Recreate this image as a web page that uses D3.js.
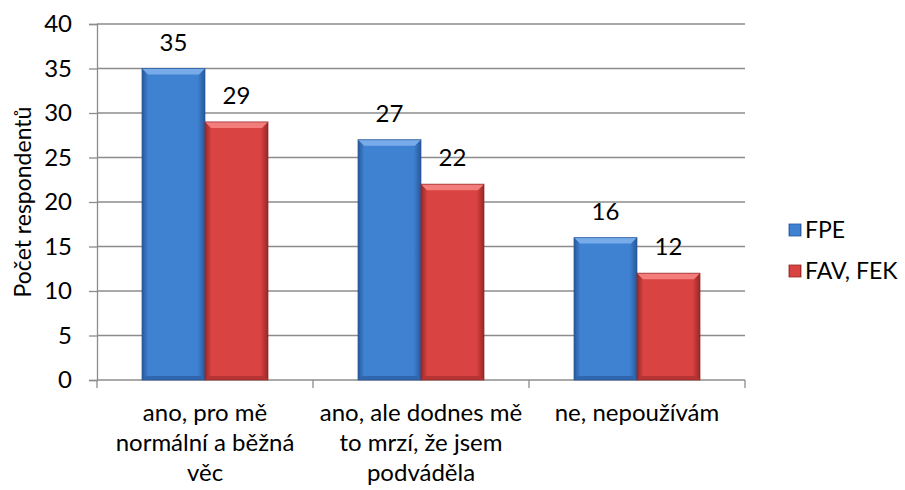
<!DOCTYPE html>
<html>
<head>
<meta charset="utf-8">
<script src="https://cdn.jsdelivr.net/npm/d3@7"></script>
<style>
  body { margin: 0; background: #fff; }
  text { font-family: Lato, "Open Sans", sans-serif; fill: #000; }
</style>
</head>
<body>
<div id="chart"></div>
<script>
// data
const categories = [
  ["ano, pro mě", "normální a běžná", "věc"],
  ["ano, ale dodnes mě", "to mrzí, že jsem", "podváděla"],
  ["ne, nepoužívám"]
];
const seriesNames = ["FPE", "FAV, FEK"];
const fpeValues = [35, 27, 16];
const favFekValues = [29, 22, 12];
const yTicks = [0, 5, 10, 15, 20, 25, 30, 35, 40];

const W = 905, H = 490;
const margin = { top: 24, right: 160, bottom: 110, left: 97 },
    width = W - margin.left - margin.right,
    height = H - margin.top - margin.bottom;

const svg = d3.select("#chart")
    .append("svg")
    .attr("width", W)
    .attr("height", H);

// gradients for the bevelled bar look
const defs = svg.append("defs");
const palette = [
  { id: "g0", edge: "#28579a", mid: "#3f82d2", top: "#78abea", bot: "#2f66ad" },
  { id: "g1", edge: "#962827", mid: "#d94341", top: "#f27d7b", bot: "#b53433" }
];
palette.forEach(p => {
  const g = defs.append("linearGradient").attr("id", p.id)
      .attr("x1", "0").attr("x2", "1").attr("y1", "0").attr("y2", "0");
  g.append("stop").attr("offset", "0").attr("stop-color", p.edge);
  g.append("stop").attr("offset", "0.1").attr("stop-color", p.mid);
  g.append("stop").attr("offset", "0.88").attr("stop-color", p.mid);
  g.append("stop").attr("offset", "1").attr("stop-color", p.edge);
});

const g = svg.append("g")
    .attr("transform", `translate(${margin.left},${margin.top})`);

const x = d3.scaleBand()
    .domain(d3.range(categories.length))
    .range([0, width])
    .padding(0);

const xSub = d3.scaleBand()
    .domain(seriesNames)
    .range([0, x.bandwidth()])
    .paddingInner(0)
    .paddingOuter(0.714);

const y = d3.scaleLinear()
    .domain([0, 40])
    .range([height, 0]);

// grid lines
g.append("g")
    .selectAll("line")
    .data(yTicks.slice(1))
    .join("line")
    .attr("x1", 0)
    .attr("x2", width)
    .attr("y1", d => y(d))
    .attr("y2", d => y(d))
    .attr("stroke", "#8c8c8c")
    .attr("stroke-width", 1.3);

// Y axis
const yAxis = g.append("g")
    .call(d3.axisLeft(y).tickValues(yTicks).tickSize(8).tickPadding(17));
yAxis.select(".domain").attr("stroke", "#8c8c8c").attr("stroke-width", 1.3);
yAxis.selectAll(".tick line").attr("stroke", "#8c8c8c").attr("stroke-width", 1.3);
yAxis.selectAll(".tick text").style("font-size", "24px").attr("fill", "#000");

// X axis (ticks on band boundaries)
const xAxis = g.append("g").attr("transform", `translate(0,${height})`);
xAxis.append("line")
    .attr("x1", 0).attr("x2", width)
    .attr("stroke", "#8c8c8c").attr("stroke-width", 1.3);
xAxis.selectAll("line.tk")
    .data(d3.range(categories.length + 1))
    .join("line")
    .attr("class", "tk")
    .attr("x1", d => d * x.step())
    .attr("x2", d => d * x.step())
    .attr("y1", 0).attr("y2", 8)
    .attr("stroke", "#8c8c8c").attr("stroke-width", 1.3);

xAxis.selectAll("text.cat")
    .data(categories)
    .join("text")
    .attr("class", "cat")
    .attr("text-anchor", "middle")
    .style("font-size", "24px")
    .attr("transform", (d, i) => `translate(${x(i) + x.bandwidth() / 2},0)`)
    .selectAll("tspan")
    .data(d => d)
    .join("tspan")
    .attr("x", 0)
    .attr("y", (d, i) => 41 + i * 30)
    .text(d => d);

// y axis title
svg.append("text")
    .attr("transform", `translate(31,${margin.top + height / 2}) rotate(-90)`)
    .attr("text-anchor", "middle")
    .style("font-size", "23px")
    .text("Počet respondentů");

// bars
const rows = categories.map((c, i) => [
  { s: seriesNames[0], v: fpeValues[i], k: 0, i },
  { s: seriesNames[1], v: favFekValues[i], k: 1, i }
]).flat();

const bars = g.append("g").selectAll("g")
    .data(rows)
    .join("g")
    .attr("transform", d => `translate(${x(d.i) + xSub(d.s)},0)`);

bars.append("rect")
    .attr("y", d => y(d.v))
    .attr("width", xSub.bandwidth())
    .attr("height", d => height - y(d.v))
    .attr("fill", d => `url(#g${d.k})`);

// top bevel
bars.append("path")
    .attr("d", d => {
      const w = xSub.bandwidth(), t = y(d.v), b = 6;
      return `M0,${t}L${w},${t}L${w - b},${t + b}L${b},${t + b}Z`;
    })
    .attr("fill", d => palette[d.k].top);

// bottom bevel
bars.append("path")
    .attr("d", d => {
      const w = xSub.bandwidth(), b = 4;
      return `M0,${height}L${w},${height}L${w - b},${height - b}L${b},${height - b}Z`;
    })
    .attr("fill", d => palette[d.k].bot);

// outline
bars.append("rect")
    .attr("y", d => y(d.v))
    .attr("width", xSub.bandwidth())
    .attr("height", d => height - y(d.v))
    .attr("fill", "none")
    .attr("stroke", d => palette[d.k].edge)
    .attr("stroke-opacity", 0.7)
    .attr("stroke-width", 1);

// value labels
bars.append("text")
    .attr("x", xSub.bandwidth() / 2)
    .attr("y", d => y(d.v) - 18)
    .attr("text-anchor", "middle")
    .style("font-size", "24px")
    .text(d => d.v);

// legend
const legend = svg.append("g")
    .attr("transform", "translate(789,224)");
const li = legend.selectAll("g")
    .data(seriesNames)
    .join("g")
    .attr("transform", (d, i) => `translate(0,${i * 41})`);
li.append("rect")
    .attr("width", 12).attr("height", 12)
    .attr("fill", (d, i) => `url(#g${i})`)
    .attr("stroke", (d, i) => palette[i].edge)
    .attr("stroke-width", 0.8);
li.append("text")
    .attr("x", 16)
    .attr("y", 6)
    .attr("dy", "0.35em")
    .style("font-size", "23px")
    .text(d => d);
</script>
</body>
</html>
